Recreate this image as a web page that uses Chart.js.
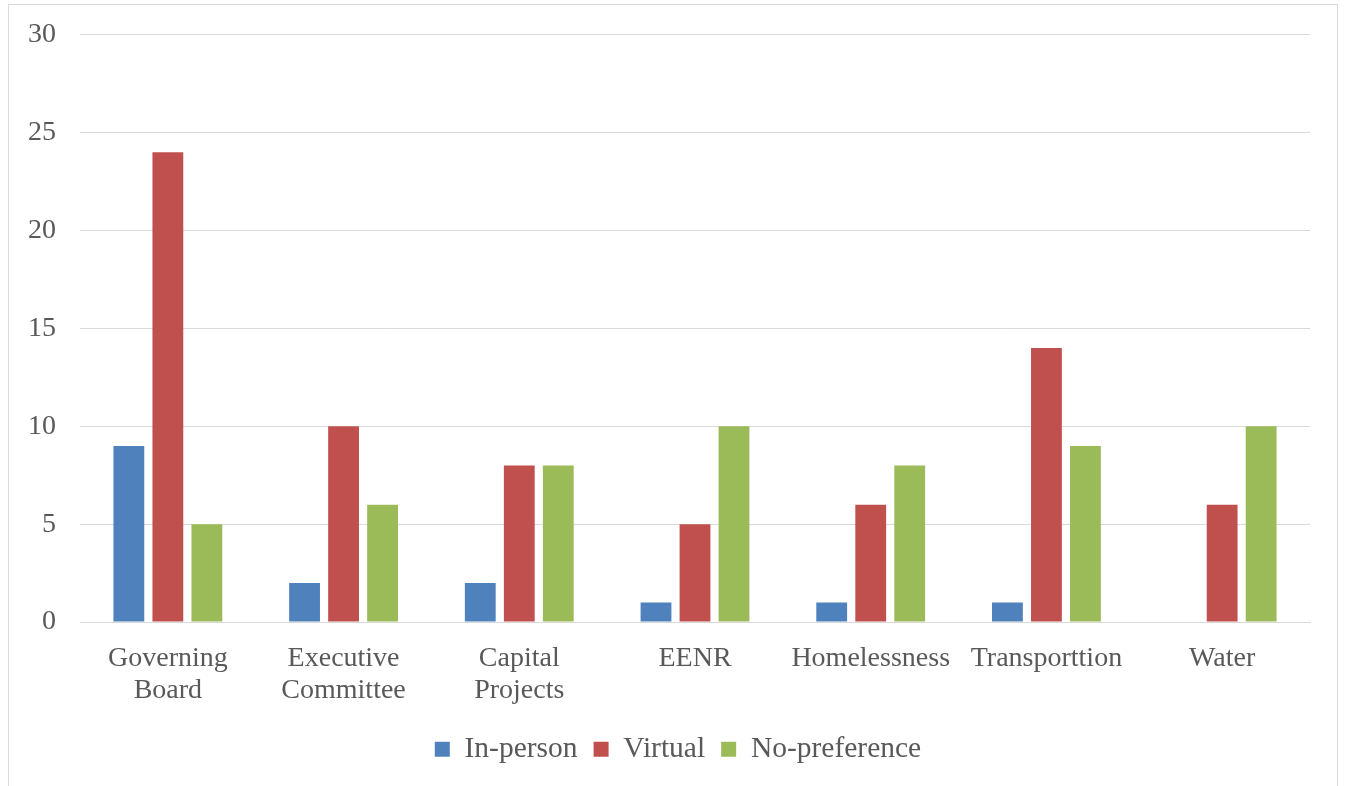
<!DOCTYPE html>
<html>
<head>
<meta charset="utf-8">
<script src="https://cdn.jsdelivr.net/npm/chart.js@4"></script>
<style>
  body { margin: 0; background: #fff; }
  #box {
    position: absolute; left: 8px; top: 4px;
    width: 1328px; height: 800px;
    border: 1px solid #d9d9d9; background: #fff;
  }
  #wrap { position: absolute; left: 0; top: -11px; width: 1328px; height: 794px; }
</style>
</head>
<body>
<div id="box"><div id="wrap"><canvas id="chart"></canvas></div></div>
<script>
const categories = [
  ["Governing", "Board"],
  ["Executive", "Committee"],
  ["Capital", "Projects"],
  "EENR",
  "Homelessness",
  "Transporttion",
  "Water"
];
const inPerson = [9, 2, 2, 1, 1, 1, 0];
const virtual = [24, 10, 8, 5, 6, 14, 6];
const noPreference = [5, 6, 8, 10, 8, 9, 10];
const yTicks = [0, 5, 10, 15, 20, 25, 30];

// nudge the legend so it sits centred under the whole frame
const legendShift = {
  id: "legendShift",
  afterLayout(chart) {
    chart.legend.left += 10;
    chart.legend.right += 10;
  }
};

const ctx = document.getElementById("chart").getContext("2d");
new Chart(ctx, {
  type: "bar",
  data: {
    labels: categories,
    datasets: [
      { label: "In-person", data: inPerson, backgroundColor: "#4f81bd" },
      { label: "Virtual", data: virtual, backgroundColor: "#c0504d" },
      { label: "No-preference", data: noPreference, backgroundColor: "#9bbb59" }
    ]
  },
  options: {
    responsive: true,
    maintainAspectRatio: false,
    animation: false,
    categoryPercentage: 0.666,
    barPercentage: 0.79,
    layout: { padding: { top: 9, right: 27, bottom: 14, left: 17 } },
    plugins: {
      tooltip: { enabled: false },
      legend: {
        position: "bottom",
        labels: {
          boxWidth: 15,
          boxHeight: 15,
          padding: 16,
          color: "#595959",
          font: { family: "Liberation Serif", size: 29.5 }
        }
      }
    },
    scales: {
      x: {
        grid: { display: false },
        border: { color: "#d9d9d9", width: 1 },
        ticks: {
          color: "#595959",
          maxRotation: 0,
          autoSkip: false,
          padding: 12,
          font: { family: "Liberation Serif", size: 28, lineHeight: 1.15 }
        }
      },
      y: {
        min: 0,
        max: 30,
        afterBuildTicks: (axis) => { axis.ticks = yTicks.map(v => ({ value: v })); },
        afterFit: (axis) => { axis.width = 54; },
        grid: { color: "#d9d9d9", lineWidth: 1, drawTicks: false },
        border: { display: false },
        ticks: {
          color: "#595959",
          padding: 24,
          font: { family: "Liberation Serif", size: 28 }
        }
      }
    }
  },
  plugins: [legendShift]
});
</script>
</body>
</html>
